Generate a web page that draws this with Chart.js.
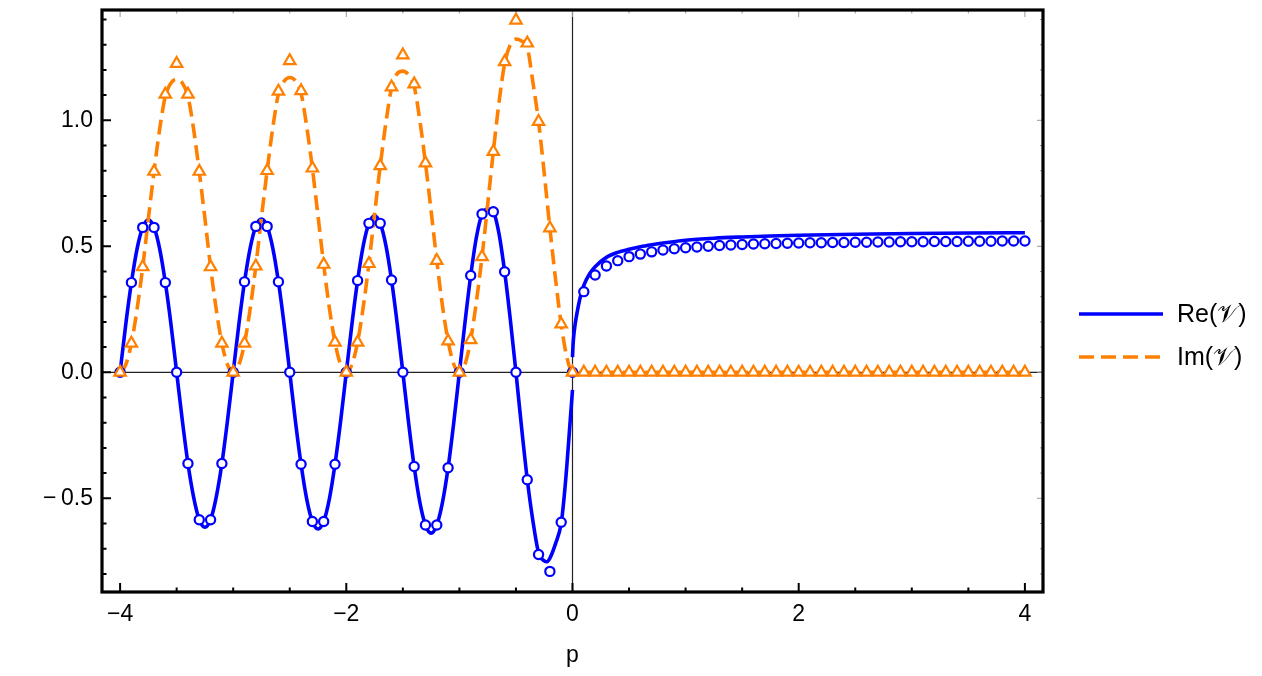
<!DOCTYPE html>
<html>
<head>
<meta charset="utf-8">
<script src="https://cdn.jsdelivr.net/npm/chart.js@4.4.1/dist/chart.umd.min.js"></script>
<style>
  body { margin: 0; background: #fff; }
</style>
</head>
<body>
<canvas id="plot" width="1262" height="676"></canvas>
<script>
// Re(V) curve, p <= 0 branch
var reLeftP = [-4,-3.95,-3.9,-3.85,-3.8,-3.75,-3.7,-3.65,-3.6,-3.55,-3.5,-3.45,-3.4,-3.35,-3.3,-3.25,-3.2,-3.15,-3.1,-3.05,
  -3,-2.95,-2.9,-2.85,-2.8,-2.75,-2.7,-2.65,-2.6,-2.55,-2.5,-2.45,-2.4,-2.35,-2.3,-2.25,-2.2,-2.15,-2.1,-2.05,
  -2,-1.95,-1.9,-1.85,-1.8,-1.75,-1.7,-1.65,-1.6,-1.55,-1.5,-1.45,-1.4,-1.35,-1.3,-1.25,-1.2,-1.15,-1.1,-1.05,
  -1,-0.95,-0.9,-0.85,-0.8,-0.75,-0.7,-0.65,-0.6,-0.55,-0.5,-0.45,-0.4,-0.35,-0.3,-0.25,-0.225,-0.2,-0.15,-0.1,
  -0.075,-0.05,-0.025,0];
var reLeftV = [0,0.19,0.356,0.49,0.575,0.605,0.575,0.49,0.356,0.19,0,-0.19,-0.362,-0.495,-0.585,-0.615,-0.585,-0.495,-0.362,-0.19,
  0,0.19,0.359,0.493,0.579,0.608,0.579,0.493,0.359,0.19,0,-0.193,-0.365,-0.503,-0.592,-0.622,-0.592,-0.503,-0.365,-0.193,
  0,0.192,0.364,0.503,0.591,0.621,0.591,0.504,0.366,0.193,0,-0.197,-0.374,-0.515,-0.606,-0.638,-0.606,-0.517,-0.379,-0.2,
  0,0.2,0.384,0.535,0.628,0.648,0.637,0.55,0.399,0.21,0,-0.22,-0.425,-0.59,-0.716,-0.748,-0.752,-0.738,-0.68,-0.6,
  -0.5,-0.37,-0.22,-0.07];

// Re(V) curve, p > 0 branch
var reRightP = [0,0.005,0.01,0.02,0.03,0.05,0.075,0.1,0.15,0.2,0.3,0.4,0.5,0.6,0.7,0.8,1,1.25,1.5,1.75,2,2.5,3,3.5,4];
var reRightV = [0.06,0.11,0.14,0.18,0.21,0.26,0.31,0.345,0.39,0.419,0.456,0.476,0.488,0.498,0.506,0.513,0.524,0.532,0.537,0.541,0.544,0.548,0.551,0.553,0.554];

// Im(V) curve
var imCurveP = [-4,-3.95,-3.9,-3.85,-3.8,-3.75,-3.7,-3.65,-3.6,-3.55,-3.5,-3.45,-3.4,-3.35,-3.3,-3.25,-3.2,-3.15,-3.1,-3.05,
  -3,-2.95,-2.9,-2.85,-2.8,-2.75,-2.7,-2.65,-2.6,-2.55,-2.5,-2.45,-2.4,-2.35,-2.3,-2.25,-2.2,-2.15,-2.1,-2.05,
  -2,-1.95,-1.9,-1.85,-1.8,-1.75,-1.7,-1.65,-1.6,-1.55,-1.5,-1.45,-1.4,-1.35,-1.3,-1.25,-1.2,-1.15,-1.1,-1.05,
  -1,-0.95,-0.9,-0.85,-0.8,-0.75,-0.7,-0.65,-0.6,-0.55,-0.5,-0.45,-0.4,-0.35,-0.3,-0.25,-0.2,-0.15,-0.1,-0.05,
  0,4];
var imCurveV = [0,0.03,0.115,0.25,0.418,0.61,0.797,0.965,1.095,1.148,1.163,1.148,1.095,0.965,0.797,0.61,0.418,0.25,0.115,0.03,
  0,0.03,0.115,0.252,0.421,0.615,0.8,0.97,1.105,1.155,1.17,1.157,1.108,0.975,0.81,0.62,0.428,0.256,0.119,0.031,
  0,0.031,0.119,0.26,0.431,0.628,0.819,0.99,1.128,1.185,1.195,1.18,1.135,1.0,0.83,0.64,0.443,0.265,0.124,0.032,
  0,0.033,0.129,0.28,0.458,0.665,0.876,1.07,1.225,1.3,1.322,1.315,1.29,1.15,0.995,0.79,0.572,0.37,0.191,0.06,
  0,0];

// sampled points (markers)
var markerP = [-4,-3.9,-3.8,-3.7,-3.6,-3.5,-3.4,-3.3,-3.2,-3.1,
  -3,-2.9,-2.8,-2.7,-2.6,-2.5,-2.4,-2.3,-2.2,-2.1,
  -2,-1.9,-1.8,-1.7,-1.6,-1.5,-1.4,-1.3,-1.2,-1.1,
  -1,-0.9,-0.8,-0.7,-0.6,-0.5,-0.4,-0.3,-0.2,-0.1,
  0,0.1,0.2,0.3,0.4,0.5,0.6,0.7,0.8,0.9,
  1,1.1,1.2,1.3,1.4,1.5,1.6,1.7,1.8,1.9,
  2,2.1,2.2,2.3,2.4,2.5,2.6,2.7,2.8,2.9,
  3,3.1,3.2,3.3,3.4,3.5,3.6,3.7,3.8,3.9,4];
var reMarkerV = [0,0.356,0.575,0.575,0.356,0,-0.362,-0.585,-0.585,-0.362,
  0,0.359,0.579,0.579,0.359,0,-0.365,-0.592,-0.592,-0.365,
  0,0.364,0.591,0.591,0.366,0,-0.374,-0.606,-0.606,-0.379,
  0,0.384,0.628,0.637,0.399,0,-0.426,-0.723,-0.79,-0.595,
  0,0.32,0.386,0.422,0.443,0.459,0.469,0.478,0.485,0.49,
  0.494,0.497,0.5,0.503,0.505,0.507,0.509,0.51,0.511,0.512,
  0.513,0.514,0.514,0.515,0.515,0.516,0.516,0.517,0.517,0.518,
  0.518,0.518,0.519,0.519,0.519,0.52,0.52,0.52,0.521,0.521,0.521];
var imMarkerV = [0,0.115,0.418,0.797,1.103,1.225,1.103,0.797,0.418,0.115,
  0,0.115,0.421,0.8,1.115,1.236,1.117,0.81,0.428,0.119,
  0,0.119,0.431,0.819,1.132,1.259,1.144,0.83,0.443,0.124,
  0,0.129,0.458,0.876,1.232,1.397,1.306,0.995,0.572,0.191,
  0,0,0,0,0,0,0,0,0,0,
  0,0,0,0,0,0,0,0,0,0,
  0,0,0,0,0,0,0,0,0,0,
  0,0,0,0,0,0,0,0,0,0,0];

var xMajorTicks = [-4, -2, 0, 2, 4];
var xMinorTicks = [-3.5, -3, -2.5, -1.5, -1, -0.5, 0.5, 1, 1.5, 2.5, 3, 3.5];
var yMajorTicks = [-0.5, 0, 0.5, 1];
var yMinorTicks = [-0.8, -0.7, -0.6, -0.4, -0.3, -0.2, -0.1, 0.1, 0.2, 0.3, 0.4, 0.6, 0.7, 0.8, 0.9, 1.1, 1.2, 1.3, 1.4];

var seriesNames = ['Re(\u{1D4B1})', 'Im(\u{1D4B1})'];

var BLUE = '#0000ff';
var ORANGE = '#ff8000';
var FONT = '"Liberation Sans", Arial, sans-serif';

function pts(px, py) {
  return px.map(function (p, i) { return { x: p, y: py[i] }; });
}

// zero axes under the data, frame + inward ticks on top
var framePlugin = {
  id: 'frame',
  beforeDatasetsDraw: function (chart) {
    var ctx = chart.ctx, a = chart.chartArea, x = chart.scales.x, y = chart.scales.y;
    ctx.save();
    ctx.strokeStyle = '#222';
    ctx.lineWidth = 1.2;
    ctx.beginPath();
    var y0 = y.getPixelForValue(0), x0 = x.getPixelForValue(0);
    ctx.moveTo(a.left, y0); ctx.lineTo(a.right, y0);
    ctx.moveTo(x0, a.top); ctx.lineTo(x0, a.bottom);
    ctx.stroke();
    ctx.restore();
  },
  afterDatasetsDraw: function (chart) {
    var ctx = chart.ctx, a = chart.chartArea, x = chart.scales.x, y = chart.scales.y;
    ctx.save();
    // far side ticks, thin grey
    ctx.strokeStyle = '#999';
    ctx.lineWidth = 1;
    ctx.beginPath();
    xMajorTicks.concat(xMinorTicks).forEach(function (v) {
      var len = xMajorTicks.indexOf(v) >= 0 ? 7 : 3.5;
      var px = x.getPixelForValue(v);
      ctx.moveTo(px, a.top); ctx.lineTo(px, a.top + len);
    });
    yMajorTicks.concat(yMinorTicks).forEach(function (v) {
      var len = yMajorTicks.indexOf(v) >= 0 ? 6 : 3;
      var py = y.getPixelForValue(v);
      ctx.moveTo(a.right, py); ctx.lineTo(a.right - len, py);
    });
    ctx.stroke();
    // labelled side ticks, black
    ctx.strokeStyle = '#000';
    ctx.lineWidth = 2;
    ctx.beginPath();
    xMajorTicks.concat(xMinorTicks).forEach(function (v) {
      var len = xMajorTicks.indexOf(v) >= 0 ? 9 : 4.5;
      var px = x.getPixelForValue(v);
      ctx.moveTo(px, a.bottom); ctx.lineTo(px, a.bottom - len);
    });
    yMajorTicks.concat(yMinorTicks).forEach(function (v) {
      var len = yMajorTicks.indexOf(v) >= 0 ? 9 : 4.5;
      var py = y.getPixelForValue(v);
      ctx.moveTo(a.left, py); ctx.lineTo(a.left + len, py);
    });
    ctx.stroke();
    // frame
    ctx.lineWidth = 3.2;
    ctx.strokeRect(a.left, a.top, a.right - a.left, a.bottom - a.top);
    ctx.restore();
  },
  afterDraw: function (chart) {
    var ctx = chart.ctx, a = chart.chartArea;
    var lx = a.right + 36, ly = 314;
    ctx.save();
    ctx.lineWidth = 3.5;
    ctx.strokeStyle = BLUE;
    ctx.beginPath(); ctx.moveTo(lx, ly); ctx.lineTo(lx + 84, ly); ctx.stroke();
    ctx.strokeStyle = ORANGE;
    ctx.setLineDash([15, 7]);
    ctx.beginPath(); ctx.moveTo(lx, ly + 43); ctx.lineTo(lx + 82, ly + 43); ctx.stroke();
    ctx.setLineDash([]);
    ctx.fillStyle = '#000';
    ctx.font = '25px ' + FONT;
    ctx.textBaseline = 'middle';
    ctx.fillText(seriesNames[0], lx + 98, ly + 1);
    ctx.fillText(seriesNames[1], lx + 98, ly + 44);
    ctx.restore();
  }
};

var ctx = document.getElementById('plot').getContext('2d');
var chart = new Chart(ctx, {
  type: 'scatter',
  data: {
    datasets: [{
      label: 'Im markers',
      data: pts(markerP, imMarkerV),
      pointStyle: 'triangle',
      pointRadius: 6.6,
      borderWidth: 2.2,
      borderColor: ORANGE,
      backgroundColor: '#fff',
      showLine: false,
      order: 0
    }, {
      label: 'Re markers',
      data: pts(markerP, reMarkerV),
      pointStyle: 'circle',
      pointRadius: 4.6,
      borderWidth: 2.2,
      borderColor: BLUE,
      backgroundColor: '#fff',
      showLine: false,
      order: 1
    }, {
      label: seriesNames[1],
      data: pts(imCurveP, imCurveV),
      showLine: true,
      borderColor: ORANGE,
      borderWidth: 3.6,
      borderDash: [15, 7],
      pointRadius: 0,
      cubicInterpolationMode: 'monotone',
      order: 2
    }, {
      label: seriesNames[0],
      data: pts(reLeftP, reLeftV),
      showLine: true,
      borderColor: BLUE,
      borderWidth: 3.6,
      pointRadius: 0,
      cubicInterpolationMode: 'monotone',
      order: 3
    }, {
      label: seriesNames[0] + ' (p>0)',
      data: pts(reRightP, reRightV),
      showLine: true,
      borderColor: BLUE,
      borderWidth: 3.6,
      pointRadius: 0,
      cubicInterpolationMode: 'monotone',
      order: 3
    }]
  },
  options: {
    responsive: false,
    animation: false,
    events: [],
    layout: {
      padding: { left: 0, top: 10, right: 219, bottom: 0 }
    },
    plugins: {
      legend: { display: false },
      tooltip: { enabled: false }
    },
    scales: {
      x: {
        type: 'linear',
        min: -4.16,
        max: 4.16,
        grid: { display: false, drawTicks: false },
        border: { display: false },
        afterBuildTicks: function (scale) {
          scale.ticks = xMajorTicks.map(function (v) { return { value: v }; });
        },
        afterFit: function (scale) {
          scale.height = 84;
          scale.paddingLeft = 0;
          scale.paddingRight = 0;
        },
        ticks: {
          padding: 9,
          maxRotation: 0,
          color: '#000',
          font: { family: FONT, size: 23 },
          callback: function (v) { return v < 0 ? '\u2212' + Math.abs(v) : String(v); }
        },
        title: {
          display: true,
          text: 'p',
          color: '#000',
          font: { family: FONT, size: 23 },
          padding: { top: 0, bottom: 7 }
        }
      },
      y: {
        type: 'linear',
        min: -0.8718,
        max: 1.4377,
        grid: { display: false, drawTicks: false },
        border: { display: false },
        afterBuildTicks: function (scale) {
          scale.ticks = yMajorTicks.map(function (v) { return { value: v }; });
        },
        afterFit: function (scale) {
          scale.width = 102;
          scale.paddingTop = 0;
          scale.paddingBottom = 0;
        },
        ticks: {
          padding: 9,
          color: '#000',
          font: { family: FONT, size: 23 },
          callback: function (v) {
            return v < 0 ? '\u2212\u2009' + Math.abs(v).toFixed(1) : v.toFixed(1);
          }
        }
      }
    }
  },
  plugins: [framePlugin]
});
</script>
</body>
</html>
